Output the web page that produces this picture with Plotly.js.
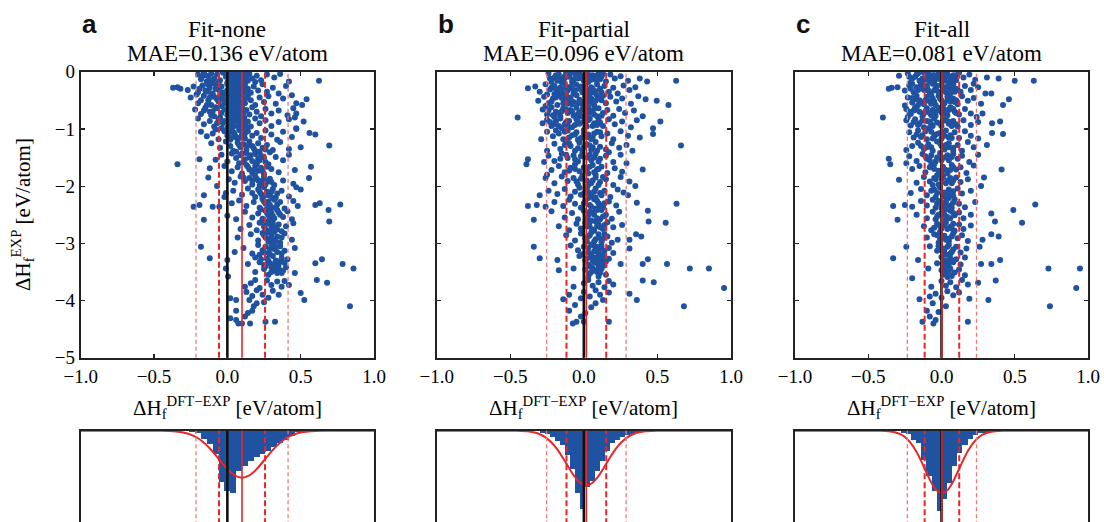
<!DOCTYPE html>
<html>
<head>
<meta charset="utf-8">
<script src="https://cdn.plot.ly/plotly-3.0.1.min.js"></script>
<style>html,body{margin:0;padding:0;background:#fff;overflow:hidden;}#chart{width:1104px;height:600px;}</style>
</head>
<body>
<div id="chart"></div>
<script>
// DATA
const panelLetters=['a','b','c'];
const panelNames=['Fit-none','Fit-partial','Fit-all'];
const maeValues=['0.136','0.096','0.081'];
const meanVals=[0.10,0.017,0.003];
const sigmaVals=[0.157,0.135,0.118];
const xTickVals=[-1,-0.5,0,0.5,1];
const yTickVals=[0,-1,-2,-3,-4,-5];
// scatter points as flat x,y pairs (dH DFT-EXP, dH EXP)
const scatterA=[-.2,-.05,-.16,-.02,-.13,-.08,-.11,-.03,-.09,-.12,-.07,-.05,-.05,-.15,-.03,-.02,-.01,-.09,.01,-.04,.02,-.14,.03,-.07,.04,-.02,.05,-.11,.06,-.05,.07,-.17,.08,-.09,.09,-.03,.1,-.13,.11,-.06,.12,-.18,.13,-.1,.15,-.04,.17,-.12,.2,-.07,.23,-.15,.27,-.05,.32,-.1,.42,-.17,.625,-.16,-.14,-.17,-.18,-.13,0,-.19,.06,-.19,-.06,-.19,.14,-.16,.19,-.18,.36,-.04,
.015,-.1,.035,-.16,.055,-.02,.075,-.12,.095,-.18,.045,-.08,.085,-.15,.025,-.05,
-.37,-.28,-.34,-.27,-.32,-.3,-.27,-.32,-.23,-.26,-.2,-.36,-.17,-.24,-.15,-.33,-.12,-.28,-.1,-.38,-.08,-.22,-.06,-.31,-.04,-.26,-.02,-.36,0,-.22,.01,-.3,.02,-.38,.03,-.25,.04,-.33,.05,-.21,.06,-.29,.07,-.37,.08,-.24,.09,-.32,.1,-.27,.11,-.36,.12,-.23,.14,-.3,.16,-.37,.18,-.26,.21,-.33,.24,-.22,.27,-.35,.31,-.28,.35,-.38,.4,-.25,
.015,-.34,.045,-.27,.075,-.35,.105,-.22,-.135,-.22,-.19,-.3,
-.25,-.45,-.2,-.55,-.16,-.42,-.13,-.5,-.11,-.58,-.09,-.44,-.06,-.52,-.03,-.47,-.01,-.56,.01,-.42,.02,-.5,.03,-.58,.04,-.45,.05,-.53,.06,-.41,.07,-.48,.08,-.57,.09,-.44,.1,-.52,.11,-.46,.12,-.55,.14,-.42,.16,-.5,.19,-.58,.22,-.45,.25,-.53,.28,-.43,.33,-.56,.38,-.47,.47,-.55,.54,-.48,.51,-.58,.44,-.41,
.015,-.46,.055,-.55,.085,-.5,-.05,-.42,-.14,-.58,
-.22,-.66,-.18,-.74,-.15,-.63,-.12,-.7,-.09,-.78,-.07,-.64,-.04,-.72,-.02,-.66,0,-.76,.02,-.62,.03,-.7,.04,-.78,.05,-.65,.06,-.73,.07,-.61,.08,-.69,.09,-.77,.1,-.64,.11,-.72,.13,-.67,.15,-.75,.17,-.62,.2,-.7,.23,-.78,.26,-.65,.3,-.73,.35,-.68,.41,-.76,.47,-.73,.45,-.64,
.015,-.68,.035,-.74,.065,-.79,.095,-.7,-.1,-.69,
-.2,-.82,-.16,-.92,-.12,-.86,-.09,-.96,-.06,-.84,-.03,-.9,0,-.98,.01,-.83,.02,-.91,.04,-.86,.05,-.95,.06,-.81,.08,-.89,.09,-.97,.1,-.84,.12,-.92,.14,-.87,.16,-.96,.19,-.82,.22,-.9,.26,-.85,.3,-.95,.35,-.88,.42,-.83,.47,-.99,.52,-.87,.46,-.8,
.03,-.97,.07,-.85,-.04,-.99,.11,-.99,
-.18,-1.05,-.14,-1.13,-.1,-1.08,-.06,-1.18,-.02,-1.04,0,-1.12,.02,-1.19,.04,-1.06,.06,-1.14,.08,-1.02,.1,-1.1,.12,-1.17,.14,-1.04,.17,-1.12,.2,-1.07,.23,-1.16,.26,-1.03,.3,-1.1,.34,-1.19,.38,-1.05,.47,-1,.56,-1.07,.6,-1.1,.44,-1.14,
.03,-1.01,.07,-1.19,-.08,-1.01,
-.11,-1.25,-.05,-1.33,-.01,-1.22,.02,-1.3,.04,-1.38,.07,-1.24,.09,-1.32,.11,-1.27,.13,-1.36,.15,-1.22,.17,-1.3,.19,-1.38,.21,-1.25,.24,-1.33,.27,-1.28,.31,-1.37,.36,-1.23,.42,-1.35,.5,-1.32,.695,-1.29,.06,-1.4,
-.19,-1.53,-.08,-1.54,-.04,-1.45,0,-1.57,.03,-1.43,.06,-1.51,.09,-1.46,.11,-1.58,.13,-1.42,.15,-1.5,.17,-1.56,.19,-1.44,.21,-1.52,.23,-1.47,.26,-1.58,.29,-1.41,.33,-1.49,.38,-1.55,.42,-1.45,.12,-1.53,.2,-1.59,
-.34,-1.62,-.12,-1.69,-.02,-1.65,.03,-1.74,.07,-1.67,.1,-1.78,.13,-1.63,.15,-1.71,.17,-1.77,.19,-1.65,.21,-1.73,.23,-1.68,.25,-1.79,.28,-1.62,.3,-1.7,.35,-1.76,.46,-1.72,.57,-1.66,.2,-1.61,
-.13,-1.85,-.07,-2,.01,-1.88,.05,-1.94,.09,-1.83,.12,-1.91,.15,-1.86,.17,-1.97,.19,-1.82,.21,-1.9,.23,-1.95,.25,-1.84,.27,-1.92,.29,-1.87,.32,-1.98,.38,-1.9,.45,-1.96,.557,-1.86,.22,-1.99,
-.16,-2.16,-.02,-2.19,-.01,-2.12,.04,-2.08,.1,-2.15,.14,-2.04,.17,-2.12,.19,-2.19,.21,-2.06,.23,-2.14,.25,-2.02,.27,-2.1,.29,-2.17,.31,-2.05,.34,-2.13,.37,-2.08,.42,-2.18,.47,-2.02,.5,-2.06,.24,-2.2,
-.23,-2.36,-.19,-2.33,-.1,-2.36,-.055,-2.36,.03,-2.3,.08,-2.25,.13,-2.35,.18,-2.28,.22,-2.38,.24,-2.23,.26,-2.31,.28,-2.27,.3,-2.37,.32,-2.24,.34,-2.32,.36,-2.28,.39,-2.39,.45,-2.26,.48,-2.35,.6,-2.33,.63,-2.3,.77,-2.32,.27,-2.4,.31,-2.21,
-.16,-2.59,0,-2.52,.06,-2.58,.12,-2.45,.17,-2.55,.21,-2.48,.24,-2.57,.26,-2.43,.28,-2.51,.3,-2.46,.32,-2.56,.34,-2.42,.36,-2.5,.38,-2.54,.41,-2.44,.44,-2.58,.69,-2.42,.29,-2.59,.23,-2.41,
.695,-2.62,.09,-2.75,.15,-2.68,.2,-2.77,.23,-2.63,.25,-2.71,.27,-2.66,.29,-2.78,.31,-2.64,.33,-2.72,.35,-2.67,.37,-2.79,.4,-2.7,.45,-2.65,.28,-2.61,.32,-2.8,
.07,-2.9,.16,-2.84,.21,-2.95,.24,-2.82,.26,-2.9,.28,-2.97,.3,-2.85,.32,-2.93,.34,-2.88,.36,-2.99,.39,-2.83,.44,-2.94,.27,-2.81,.31,-2.99,
-.18,-3.06,.05,-3.15,.11,-3.08,.17,-3.18,.21,-3.03,.24,-3.12,.26,-3.06,.28,-3.17,.3,-3.02,.32,-3.1,.34,-3.15,.36,-3.05,.39,-3.13,.46,-3.08,.22,-3.2,.29,-3.19,
-.12,-3.26,0,-3.29,.14,-3.36,.19,-3.25,.22,-3.33,.25,-3.38,.27,-3.27,.29,-3.35,.31,-3.22,.33,-3.3,.35,-3.37,.37,-3.26,.39,-3.34,.41,-3.28,.6,-3.35,.645,-3.28,.786,-3.36,.26,-3.4,.34,-3.4,
-.01,-3.44,.005,-3.58,.19,-3.5,.25,-3.45,.28,-3.55,.31,-3.42,.33,-3.48,.35,-3.44,.37,-3.52,.4,-3.42,.46,-3.52,.86,-3.44,.3,-3.5,
.61,-3.64,.68,-3.69,.12,-3.76,.16,-3.7,.22,-3.78,.27,-3.65,.3,-3.73,.34,-3.67,.37,-3.76,.39,-3.66,.42,-3.73,.19,-3.64,
.5,-3.87,.525,-3.99,.13,-3.85,.17,-3.92,.2,-3.82,.24,-3.9,.28,-3.95,.31,-3.83,.35,-3.9,.02,-3.96,.06,-3.99,.15,-3.99,
.836,-4.1,.25,-4.03,.18,-4.1,.14,-4.22,.17,-4.18,.06,-4.18,.02,-4.31,.06,-4.34,.075,-4.4,.1,-4.4,.155,-4.4,.26,-4.37,.325,-4.37,.12,-4.28,.2,-4.05];
const denseA=[.005,-.03,.03,-.01,.06,-.08,.09,-.07,.12,-.04,.02,-.22,.05,-.25,.08,-.2,.11,-.28,0,-.32,.035,-.4,.065,-.43,.095,-.39,.125,-.33,.005,-.48,.04,-.6,.07,-.55,.1,-.6,.125,-.47,.01,-.58,.025,-.77,.055,-.7,.085,-.76,.115,-.8,.005,-.72,.02,-.88,.05,-.84,.08,-.94,.11,-.88,.13,-.97,.01,-1.06,.05,-1.1,.09,-1.15,.12,-1.08,.03,-1.15,
-.15,-.06,-.12,-.14,-.1,-.2,-.08,-.3,-.05,-.35,-.03,-.42,-.07,-.48,-.12,-.45,-.02,-.52,-.04,-.6,-.08,-.62,-.11,-.76,-.05,-.8,-.02,-.86,-.07,-.9,-.16,-.68,-.18,-.5,-.21,-.4,-.17,-.08,-.13,-.35,
.08,-1.28,.14,-1.29,.18,-1.34,.22,-1.4,.26,-1.36,.1,-1.43,.16,-1.46,.22,-1.55,.25,-1.5,.08,-1.6,.14,-1.66,.18,-1.72,.24,-1.74,.27,-1.66,.11,-1.85,.17,-1.9,.2,-1.87,.24,-1.9,.26,-1.97,.3,-1.93,
.22,-2.1,.26,-2.16,.3,-2.1,.33,-2.2,.25,-2.27,.29,-2.33,.33,-2.38,.27,-2.47,.31,-2.52,.35,-2.46,.22,-2.64,.26,-2.76,.3,-2.7,.34,-2.76,.25,-2.86,.29,-2.92,.33,-2.96,.37,-2.9,.25,-3.16,.29,-3.1,.33,-3.06,.37,-3.18,.23,-3.28,.28,-3.31,.32,-3.36,.36,-3.32,.3,-3.42,.34,-3.52,.38,-3.48];
const scatterB=[-.24,-.03,-.2,-.1,-.17,-.05,-.14,-.15,-.12,-.02,-.1,-.09,-.08,-.17,-.06,-.04,-.04,-.12,-.02,-.07,0,-.16,.02,-.03,.04,-.1,.06,-.06,.08,-.14,.1,-.02,.12,-.09,.15,-.17,.18,-.05,.21,-.12,.25,-.08,.3,-.16,.38,-.12,.43,-.17,.627,-.16,-.22,-.18,-.15,-.19,-.07,-.19,.03,-.18,.13,-.04,-.09,-.02,.01,-.08,-.13,-.08,.07,-.11,-.03,-.03,
-.38,-.29,-.33,-.26,-.3,-.35,-.26,-.22,-.23,-.31,-.2,-.25,-.18,-.37,-.16,-.28,-.13,-.21,-.11,-.33,-.09,-.26,-.07,-.38,-.05,-.23,-.03,-.3,-.01,-.36,.01,-.24,.03,-.32,.05,-.27,.07,-.37,.09,-.22,.11,-.3,.14,-.25,.17,-.35,.2,-.28,.23,-.38,.27,-.24,.31,-.32,.35,-.27,-.14,-.39,0,-.29,-.2,-.39,
-.31,-.51,-.27,-.44,-.24,-.55,-.21,-.47,-.18,-.58,-.16,-.42,-.13,-.5,-.11,-.56,-.09,-.45,-.07,-.53,-.05,-.41,-.03,-.49,-.01,-.57,.01,-.44,.03,-.52,.05,-.47,.07,-.58,.09,-.42,.12,-.5,.15,-.55,.18,-.44,.22,-.52,.26,-.47,.32,-.56,.37,-.43,.495,-.51,.575,-.58,.42,-.48,-.12,-.41,.02,-.59,
-.45,-.8,-.28,-.66,-.25,-.75,-.22,-.62,-.19,-.7,-.16,-.78,-.14,-.64,-.11,-.72,-.09,-.67,-.07,-.77,-.05,-.63,-.03,-.71,-.01,-.66,.01,-.76,.03,-.62,.05,-.69,.07,-.75,.1,-.64,.13,-.72,.16,-.67,.2,-.77,.24,-.65,.28,-.72,.34,-.68,.4,-.78,-.2,-.79,0,-.79,
-.28,-.9,-.25,-.84,-.22,-.95,-.19,-.87,-.16,-.82,-.13,-.92,-.1,-.86,-.08,-.97,-.05,-.83,-.03,-.91,0,-.87,.02,-.96,.04,-.82,.07,-.9,.1,-.85,.13,-.95,.17,-.83,.21,-.92,.26,-.87,.32,-.97,.36,-.85,.52,-.87,.47,-.99,-.15,-.99,
-.29,-1.18,-.25,-1.05,-.21,-1.13,-.17,-1.08,-.14,-1.18,-.11,-1.03,-.08,-1.11,-.05,-1.06,-.02,-1.16,0,-1.02,.03,-1.1,.06,-1.15,.09,-1.05,.12,-1.13,.16,-1.08,.2,-1.18,.25,-1.04,.3,-1.12,.47,-1.09,.38,-1.15,-.04,-1.19,
-.2,-1.26,-.16,-1.35,-.12,-1.22,-.09,-1.3,-.06,-1.38,-.03,-1.24,0,-1.32,.02,-1.27,.05,-1.37,.08,-1.23,.11,-1.31,.15,-1.36,.19,-1.25,.24,-1.33,.29,-1.28,.66,-1.29,-.25,-1.38,.33,-1.38,
-.38,-1.53,-.24,-1.47,-.2,-1.56,-.15,-1.43,-.11,-1.51,-.07,-1.46,-.04,-1.57,-.01,-1.42,.02,-1.5,.05,-1.55,.08,-1.44,.11,-1.52,.15,-1.47,.2,-1.58,.25,-1.45,.29,-1.6,-.27,-1.58,.17,-1.41,
-.39,-1.62,-.22,-1.72,-.17,-1.65,-.13,-1.76,-.09,-1.68,-.06,-1.62,-.03,-1.74,0,-1.67,.03,-1.78,.06,-1.63,.09,-1.71,.12,-1.66,.16,-1.77,.21,-1.69,.26,-1.75,.4,-1.71,-.25,-1.8,.08,-1.8,
-.26,-1.86,-.2,-1.95,-.15,-1.83,-.11,-1.91,-.07,-1.86,-.04,-1.97,-.01,-1.82,.02,-1.9,.05,-1.95,.08,-1.85,.11,-1.93,.15,-1.88,.2,-1.98,.25,-1.84,.31,-1.92,.35,-2,
-.3,-2.16,-.24,-2.08,-.18,-2.14,-.13,-2.05,-.09,-2.18,-.06,-2.1,-.03,-2.03,0,-2.13,.02,-2.07,.05,-2.17,.08,-2.04,.11,-2.12,.14,-2.08,.18,-2.19,.23,-2.06,.3,-2.16,.27,-2.11,
-.38,-2.35,-.32,-2.33,-.26,-2.36,-.2,-2.28,-.14,-2.35,-.1,-2.24,-.06,-2.31,-.02,-2.38,.01,-2.26,.04,-2.33,.07,-2.23,.1,-2.3,.13,-2.37,.17,-2.27,.22,-2.34,.36,-2.29,.63,-2.31,.08,-2.39,
-.34,-2.59,-.22,-2.44,-.13,-2.55,-.08,-2.47,-.04,-2.58,0,-2.43,.03,-2.51,.06,-2.46,.09,-2.56,.12,-2.42,.15,-2.5,.19,-2.57,.24,-2.45,.435,-2.43,.05,-2.6,
.44,-2.62,.556,-2.64,-.17,-2.7,-.1,-2.77,-.05,-2.66,-.02,-2.74,.01,-2.64,.04,-2.71,.07,-2.78,.1,-2.67,.13,-2.75,.16,-2.63,.2,-2.72,.26,-2.68,.08,-2.62,
.355,-2.84,.39,-2.88,.31,-2.94,.23,-2.94,-.12,-2.86,-.06,-2.95,-.02,-2.83,.01,-2.91,.04,-2.86,.07,-2.97,.1,-2.84,.13,-2.92,.16,-2.88,.19,-2.99,.05,-2.81,
-.34,-3.06,.31,-3.09,-.09,-3.04,-.04,-3.12,0,-3.06,.03,-3.16,.06,-3.03,.08,-3.1,.1,-3.18,.12,-3.05,.14,-3.13,.17,-3.08,.2,-3.17,.05,-3.2,-.01,-3.19,
-.3,-3.26,-.18,-3.29,.435,-3.28,.4,-3.36,.25,-3.36,.565,-3.36,-.03,-3.22,.01,-3.3,.03,-3.37,.05,-3.25,.07,-3.33,.09,-3.28,.11,-3.38,.13,-3.24,.15,-3.32,.17,-3.27,.04,-3.4,.1,-3.22,
-.17,-3.47,-.07,-3.44,.72,-3.44,.85,-3.44,.01,-3.46,.04,-3.53,.06,-3.43,.09,-3.5,.12,-3.45,.15,-3.55,.03,-3.59,.1,-3.58,
.953,-3.78,.4,-3.65,.475,-3.68,-.07,-3.76,0,-3.7,.03,-3.64,.06,-3.74,.1,-3.68,.14,-3.77,.17,-3.66,.2,-3.72,
.36,-3.99,.31,-3.88,-.14,-3.98,-.1,-3.9,.13,-3.99,0,-3.85,.04,-3.93,.08,-3.82,.11,-3.9,-.02,-3.96,.17,-3.86,
.68,-4.1,-.1,-4.18,-.075,-4.4,-.05,-4.37,0,-4.37,.01,-4.22,.17,-4.37,-.02,-4.28,.05,-4.12,.08,-4.05,-.06,-4.08];
const denseB=[-.19,-.06,-.16,-.12,-.11,-.06,-.05,-.09,.05,-.14,.09,-.07,-.19,-.3,-.12,-.27,-.06,-.33,.02,-.35,.06,-.3,.12,-.36,-.22,-.52,-.15,-.46,-.08,-.57,0,-.52,.06,-.55,.1,-.47,-.24,-.68,-.17,-.72,-.12,-.66,-.04,-.74,.04,-.72,.09,-.78,-.2,-.92,-.12,-.88,-.06,-.93,.01,-.9,.06,-.95,.11,-.89,-.19,-1.03,-.1,-1.15,.02,-1.14,.07,-1.08,-.13,-1.28,-.04,-1.34,.04,-1.29,.09,-1.38,-.16,-1.52,-.06,-1.53,.04,-1.45,.1,-1.57,-.1,-1.73,.02,-1.72,.07,-1.76,-.05,-1.92,.06,-1.9,.1,-1.98,-.02,-2.15,.04,-2.12,.08,-2.2,0,-2.3,.05,-2.36,.11,-2.34,.02,-2.55,.07,-2.5,.11,-2.58,.02,-2.7,.06,-2.76,.11,-2.72,.02,-2.97,.08,-2.93,.12,-2.98,.03,-3.08,.07,-3.14,.11,-3.1,.06,-3.3,.09,-3.35,.12,-3.3,.07,-3.47,.1,-3.43,
-.23,-.12,-.18,-.16,-.13,-.11,-.07,-.13,-.01,-.12,.04,-.06,.11,-.13,-.25,-.4,-.22,-.28,-.15,-.32,-.08,-.3,-.02,-.26,.04,-.38,.08,-.34,-.26,-.6,-.19,-.45,-.14,-.55,-.1,-.5,-.04,-.55,.03,-.47,.08,-.51,.13,-.42,-.21,-.76,-.15,-.69,-.08,-.7,-.02,-.78,.02,-.68,.07,-.65,.12,-.77,-.23,-.88,-.17,-.95,-.11,-.95,-.04,-.87,.03,-.85,.09,-.93,-.13,-1.05,-.06,-1.1,0,-1.08,.05,-1.18,.11,-1.06,-.1,-1.25,-.01,-1.36,.06,-1.32,-.12,-1.45,-.02,-1.48,.07,-1.5,-.06,-1.7,.04,-1.66,.1,-1.7,-.02,-1.87,.03,-1.98,.13,-1.84,.02,-2.02,.07,-2.1,.12,-2.16,.03,-2.21,.09,-2.26,.14,-2.3,.04,-2.45,.09,-2.42,.13,-2.53,.04,-2.63,.09,-2.7,.14,-2.68,.03,-2.88,.1,-2.9,.14,-2.84,.05,-3.02,.09,-3.06,.13,-3.2,.02,-3.26,.08,-3.25,.14,-3.39,.05,-3.5,.11,-3.52];
const scatterC=[-.29,-.07,-.23,-.03,-.2,-.12,-.17,-.05,-.15,-.16,-.12,-.02,-.1,-.1,-.08,-.17,-.06,-.06,-.04,-.13,-.02,-.03,0,-.09,.02,-.16,.04,-.04,.06,-.11,.08,-.06,.1,-.15,.12,-.02,.15,-.1,.19,-.05,.23,-.14,.31,-.1,.39,-.12,.5,-.16,.63,-.16,-.21,-.19,-.13,-.19,-.05,-.19,.05,-.19,-.09,-.03,.01,-.02,-.03,-.1,.07,-.14,
-.36,-.3,-.34,-.28,-.3,-.27,-.25,-.33,-.22,-.24,-.19,-.36,-.17,-.27,-.14,-.22,-.12,-.32,-.1,-.25,-.08,-.37,-.06,-.21,-.04,-.29,-.02,-.35,0,-.23,.02,-.31,.04,-.26,.06,-.38,.08,-.22,.1,-.3,.13,-.35,.16,-.25,.2,-.32,.25,-.27,.3,-.38,.34,-.38,.22,-.21,-.2,-.21,-.01,-.39,
-.23,-.45,-.2,-.54,-.17,-.42,-.15,-.5,-.12,-.57,-.1,-.44,-.08,-.52,-.06,-.47,-.04,-.58,-.02,-.42,0,-.5,.02,-.55,.04,-.44,.06,-.52,.08,-.47,.11,-.57,.14,-.43,.18,-.51,.22,-.46,.27,-.56,.46,-.48,.42,-.58,-.25,-.59,-.07,-.41,
-.4,-.8,-.24,-.65,-.21,-.74,-.18,-.62,-.15,-.7,-.13,-.78,-.1,-.64,-.08,-.72,-.06,-.67,-.04,-.77,-.02,-.63,0,-.71,.02,-.66,.04,-.76,.06,-.62,.09,-.7,.12,-.75,.16,-.65,.2,-.73,.28,-.73,.24,-.79,-.23,-.79,
-.24,-.85,-.21,-.94,-.18,-.83,-.15,-.9,-.12,-.97,-.1,-.86,-.07,-.92,-.05,-.82,-.03,-.89,0,-.95,.02,-.84,.05,-.91,.08,-.86,.11,-.96,.15,-.85,.2,-.93,.25,-.88,.4,-.87,.345,-.9,-.09,-.99,
-.22,-1.06,-.19,-1.15,-.16,-1.03,-.13,-1.11,-.1,-1.18,-.07,-1.05,-.05,-1.13,-.02,-1.08,0,-1.17,.03,-1.03,.06,-1.11,.09,-1.06,.12,-1.16,.16,-1.04,.2,-1.12,.42,-1.09,.345,-1.07,.25,-1.17,
.31,-1.28,-.2,-1.3,-.16,-1.24,-.12,-1.35,-.09,-1.27,-.06,-1.38,-.03,-1.22,0,-1.3,.02,-1.36,.05,-1.25,.08,-1.33,.11,-1.28,.14,-1.38,.18,-1.23,.22,-1.32,-.24,-1.37,
-.36,-1.52,-.22,-1.48,-.17,-1.56,-.13,-1.44,-.1,-1.52,-.07,-1.46,-.04,-1.57,-.01,-1.42,.02,-1.5,.05,-1.55,.08,-1.44,.11,-1.52,.14,-1.47,.19,-1.58,.25,-1.45,-.24,-1.6,
-.35,-1.62,-.2,-1.7,-.15,-1.65,-.11,-1.76,-.08,-1.67,-.05,-1.62,-.02,-1.73,.01,-1.66,.04,-1.78,.07,-1.63,.1,-1.71,.13,-1.67,.17,-1.77,.41,-1.71,.22,-1.64,
-.29,-1.89,.29,-1.85,.27,-2,-.17,-1.94,-.12,-1.84,-.08,-1.92,-.05,-1.86,-.02,-1.97,.01,-1.83,.04,-1.9,.07,-1.95,.1,-1.85,.13,-1.93,.18,-1.88,-.03,-1.81,
-.21,-2.12,-.14,-2.05,-.1,-2.16,-.07,-2.08,-.04,-2.19,-.01,-2.03,.02,-2.11,.05,-2.06,.08,-2.17,.11,-2.04,.14,-2.13,.2,-2.08,.03,-2.2,
-.33,-2.35,-.25,-2.33,-.2,-2.36,-.14,-2.26,-.1,-2.34,-.06,-2.24,-.03,-2.31,0,-2.38,.03,-2.27,.06,-2.34,.09,-2.23,.12,-2.31,.16,-2.37,.64,-2.32,.49,-2.42,.23,-2.28,.05,-2.21,
-.3,-2.59,.34,-2.48,-.17,-2.5,-.1,-2.56,-.06,-2.45,-.03,-2.53,0,-2.47,.03,-2.58,.06,-2.43,.09,-2.51,.12,-2.46,.15,-2.56,.2,-2.5,.03,-2.41,
.55,-2.64,.365,-2.62,-.12,-2.7,-.07,-2.77,-.03,-2.66,0,-2.74,.03,-2.63,.06,-2.71,.09,-2.78,.12,-2.67,.15,-2.75,.2,-2.69,-.01,-2.8,
.34,-2.84,.39,-2.88,.28,-2.94,-.1,-2.9,-.05,-2.84,-.01,-2.93,.02,-2.87,.05,-2.97,.08,-2.83,.11,-2.91,.14,-2.86,.18,-2.96,-.02,-2.99,
-.24,-3.06,.26,-3.06,-.08,-3.05,-.03,-3.13,0,-3.08,.02,-3.17,.05,-3.03,.08,-3.11,.1,-3.06,.13,-3.16,.17,-3.09,.03,-3.2,
-.33,-3.26,-.16,-3.29,.27,-3.36,.34,-3.36,.4,-3.29,0,-3.24,.02,-3.31,.04,-3.37,.06,-3.26,.08,-3.33,.1,-3.28,.13,-3.37,.16,-3.25,-.03,-3.35,.05,-3.4,
-.09,-3.44,.73,-3.44,.945,-3.44,0,-3.47,.03,-3.53,.06,-3.44,.09,-3.51,.12,-3.46,.16,-3.56,.04,-3.59,
-.2,-3.61,.37,-3.65,.92,-3.78,.25,-3.69,-.07,-3.76,0,-3.66,.03,-3.74,.06,-3.68,.1,-3.77,.14,-3.64,.18,-3.72,
.32,-3.99,-.15,-3.98,-.04,-3.88,0,-3.95,.04,-3.84,.08,-3.91,.12,-3.86,-.08,-3.93,.19,-3.97,
.74,-4.1,.18,-4.37,-.13,-4.37,-.1,-4.18,-.055,-4.4,-.04,-4.34,-.06,-4.05,-.02,-4.2,.03,-4.1,-.08,-4.28];
const denseC=[-.18,-.09,-.13,-.12,-.07,-.1,-.01,-.13,.03,-.08,.09,-.1,-.16,-.32,-.1,-.28,-.05,-.33,.01,-.27,.05,-.33,.09,-.35,-.18,-.48,-.13,-.54,-.07,-.56,-.01,-.47,.04,-.5,.09,-.53,-.19,-.68,-.12,-.73,-.05,-.69,.01,-.74,.05,-.67,.1,-.72,-.16,-.93,-.08,-.87,-.01,-.91,.04,-.86,.07,-.95,-.14,-1.14,-.04,-1.1,.02,-1.12,.07,-1.16,-.1,-1.32,-.01,-1.25,.05,-1.32,-.08,-1.55,0,-1.55,.07,-1.49,-.05,-1.7,.03,-1.72,.08,-1.67,-.04,-1.88,.03,-1.95,.06,-1.86,-.03,-2.12,.04,-2.15,.08,-2.09,-.02,-2.26,.03,-2.35,.08,-2.29,-.02,-2.5,.04,-2.54,.08,-2.47,-.01,-2.7,.04,-2.75,.08,-2.66,0,-2.88,.05,-2.92,0,-3.12,.04,-3.06,.07,-3.15,.03,-3.3,.07,-3.3,.02,-3.45,.05,-3.5,
-.22,-.09,-.16,-.03,-.11,-.14,-.05,-.06,0,-.15,.05,-.09,.1,-.06,-.21,-.3,-.14,-.26,-.09,-.33,-.03,-.25,.03,-.36,.07,-.27,.11,-.32,-.2,-.46,-.16,-.58,-.11,-.5,-.05,-.52,.01,-.58,.06,-.46,.1,-.5,-.22,-.7,-.17,-.66,-.11,-.69,-.07,-.76,-.02,-.68,.03,-.72,.08,-.65,-.19,-.88,-.13,-.85,-.06,-.95,.01,-.86,.06,-.88,.1,-.92,-.17,-1.1,-.11,-1.04,-.06,-1.17,0,-1.06,.05,-1.15,-.14,-1.3,-.07,-1.32,.03,-1.28,.08,-1.38,-.11,-1.48,-.03,-1.5,.04,-1.46,-.07,-1.63,0,-1.76,.06,-1.72,-.06,-1.98,0,-1.88,.08,-1.9,-.05,-2.06,.01,-2.17,.06,-2.12,-.04,-2.38,.01,-2.3,.07,-2.38,-.04,-2.58,.02,-2.5,.06,-2.56,-.05,-2.73,.02,-2.68,.07,-2.74,-.03,-2.86,.03,-2.94,.07,-2.88,-.02,-3.05,.02,-3.1,.06,-3.18,.01,-3.36,.05,-3.32,.01,-3.55,.07,-3.57];
// histograms: bin centres and probability density
const binWidths=[0.04,0.034,0.035];
const histXA=[-.24,-.2,-.16,-.12,-.08,-.04,0,.04,.08,.12,.16,.2,.24,.28,.32,.36,.4,.44,.48,.52,.56];
const histDA=[.05,.15,.47,.74,1.28,2.76,3.24,3.35,2.16,1.89,1.62,1.41,1.24,1.08,.86,.65,.49,.27,.08,.05,.03];
const histXB=[-.315,-.281,-.247,-.213,-.179,-.145,-.111,-.077,-.043,-.009,.025,.059,.093,.127,.161,.195,.229,.263,.297,.331,.365,.399,.433];
const histDB=[.03,.14,.19,.32,.54,.76,1.3,2.05,3.35,4.22,3.03,2.7,2.16,1.62,1.08,.65,.49,.32,.22,.16,.08,.08,.04];
const histXC=[-.295,-.26,-.225,-.19,-.155,-.12,-.085,-.05,-.015,.02,.055,.09,.125,.16,.195,.23,.265,.3,.335,.37];
const histDC=[.03,.15,.16,.49,.65,1.57,2.43,3.24,4.32,3.68,2.81,1.89,1.19,.76,.43,.22,.14,.11,.08,.05];
// fitted normal curves
const gaussXA=[-1,-.5,-.45,-.4,-.35,-.3,-.25,-.2,-.15,-.1,-.05,0,.05,.1,.15,.2,.25,.3,.35,.4,.45,.5,.55,.6,.65,.7,1];
const gaussYA=[0,.002,.005,.016,.042,.099,.212,.409,.715,1.129,1.61,2.074,2.415,2.54,2.415,2.074,1.61,1.129,.715,.409,.212,.099,.042,.016,.005,.002,0];
const gaussXB=[-1,-.463,-.423,-.383,-.343,-.303,-.263,-.223,-.183,-.143,-.103,-.063,-.023,.017,.057,.097,.137,.177,.217,.257,.297,.337,.377,.417,.457,.497,1];
const gaussYB=[0,.005,.015,.037,.084,.178,.344,.608,.986,1.464,1.991,2.479,2.828,2.955,2.828,2.479,1.991,1.464,.986,.608,.344,.178,.084,.037,.015,.005,0];
const gaussXC=[-1,-.417,-.382,-.347,-.312,-.277,-.242,-.207,-.172,-.137,-.102,-.067,-.032,.003,.038,.073,.108,.143,.178,.213,.248,.283,.318,.353,.388,.423,1];
const gaussYC=[0,.006,.017,.042,.096,.202,.392,.694,1.126,1.672,2.275,2.835,3.235,3.38,3.235,2.835,2.275,1.672,1.126,.694,.392,.202,.096,.042,.017,.006,0];

// STYLE / LAYOUT
const W=1104,H=600,BLUE='#1f52a0',RED='#e8262a',RED_LIGHT='#f07878',FRAME='#222222';
const SERIF='Liberation Serif',SANS='Liberation Sans';
const px=v=>v/W, py=v=>1-v/H;
const panelLeft=[80.7,436.7,795], panelRight=[374,731,1088];
const scatTop=71.7,scatBot=357.7,histTop=430.7,histBot=560.2,histMax=7.0;
const evens=a=>a.filter((_,k)=>k%2===0), odds=a=>a.filter((_,k)=>k%2===1);
const scatters=[scatterA.concat(denseA),scatterB.concat(denseB),scatterC.concat(denseC)];
const hists=[[histXA,histDA],[histXB,histDB],[histXC,histDC]];
const gauss=[[gaussXA,gaussYA],[gaussXB,gaussYB],[gaussXC,gaussYC]];
const traces=[];
const layout={width:W,height:H,margin:{l:0,r:0,t:0,b:0},paper_bgcolor:'#fff',plot_bgcolor:'#fff',
  showlegend:false,bargap:0,shapes:[],annotations:[]};
for(let i=0;i<3;i++){
  const sx='x'+(i+1),sy='y'+(i+1),hx='x'+(i+4),hy='y'+(i+4);
  const sxKey=i===0?'xaxis':'xaxis'+(i+1), syKey=i===0?'yaxis':'yaxis'+(i+1);
  const dom=[px(panelLeft[i]),px(panelRight[i])];
  traces.push({type:'scatter',mode:'markers',x:evens(scatters[i]),y:odds(scatters[i]),
    marker:{size:6,color:BLUE,line:{width:0}},xaxis:sx,yaxis:sy,hoverinfo:'skip'});
  traces.push({type:'bar',x:hists[i][0],y:hists[i][1],width:binWidths[i],
    marker:{color:BLUE,line:{width:0}},xaxis:hx,yaxis:hy,hoverinfo:'skip'});
  traces.push({type:'scatter',mode:'lines',x:gauss[i][0],y:gauss[i][1],
    line:{color:RED,width:2,shape:'spline',smoothing:1},xaxis:hx,yaxis:hy,hoverinfo:'skip'});
  const common={showline:true,linewidth:2,linecolor:FRAME,showgrid:false,zeroline:false};
  layout[sxKey]=Object.assign({domain:dom,anchor:sy,range:[-1,1],tickvals:xTickVals,tickformat:'.1f',
    ticks:'inside',ticklen:4,tickwidth:1.2,tickcolor:FRAME,mirror:'allticks',
    tickfont:{family:SERIF,size:19,color:'#000'}},common);
  layout[syKey]=Object.assign({domain:[py(scatBot),py(scatTop)],anchor:sx,range:[-5,0],tickvals:yTickVals,
    showticklabels:i===0,ticks:'inside',ticklen:4,tickwidth:1.2,tickcolor:FRAME,mirror:'allticks',
    tickfont:{family:SERIF,size:19,color:'#000'}},common);
  layout['xaxis'+(i+4)]=Object.assign({domain:dom,anchor:hy,range:[-1,1],showticklabels:false,ticks:'',mirror:true},common);
  layout['yaxis'+(i+4)]=Object.assign({domain:[py(histBot),py(histTop)],anchor:hx,range:[histMax,0],
    showticklabels:false,ticks:'',mirror:true},common);
  const m=meanVals[i],s=sigmaVals[i];
  const lineSpecs=[
    {x:m-2*s,color:RED_LIGHT,width:1.3,dash:'4px,3px'},{x:m+2*s,color:RED_LIGHT,width:1.3,dash:'4px,3px'},
    {x:m-s,color:RED,width:2,dash:'6px,3px'},{x:m+s,color:RED,width:2,dash:'6px,3px'},
    {x:0,color:'#111',width:2.6,dash:'solid'},{x:m,color:RED,width:1.6,dash:'solid'}];
  [[sx,sy],[hx,hy]].forEach(([ax,ay])=>lineSpecs.forEach(L=>layout.shapes.push({type:'line',xref:ax,yref:ay+' domain',
    x0:L.x,x1:L.x,y0:0,y1:1,layer:'above',line:{color:L.color,width:L.width,dash:L.dash}})));
  const cx=(panelLeft[i]+panelRight[i])/2;
  const ann=(x,y,text,font,extra)=>layout.annotations.push(Object.assign({xref:'paper',yref:'paper',x:px(x),y:py(y),
    xanchor:'center',yanchor:'middle',text:text,showarrow:false,font:font},extra||{}));
  ann(cx,29,panelNames[i],{family:SERIF,size:23,color:'#000'});
  ann(cx,53,'MAE='+maeValues[i]+' eV/atom',{family:SERIF,size:23,color:'#000'});
  ann(panelLeft[i]-1,24,'<b>'+panelLetters[i]+'</b>',{family:SANS,size:26,color:'#111'},{xanchor:'left'});
  ann(cx,407,'ΔH<sub>f</sub><sup>DFT−EXP</sup> [eV/atom]',{family:SERIF,size:21,color:'#000'});
}
layout.annotations.push({xref:'paper',yref:'paper',x:px(22),y:py(215),xanchor:'center',yanchor:'middle',textangle:-90,
  text:'ΔH<sub>f</sub><sup>EXP</sup> [eV/atom]',showarrow:false,font:{family:SERIF,size:21,color:'#000'}});
Plotly.newPlot('chart',traces,layout,{displayModeBar:false,staticPlot:true}).then(gd=>{
  // make sure the serif face is applied to every label except the bold panel letters
  gd.querySelectorAll('text').forEach(t=>{
    const isLetter=panelLetters.includes((t.textContent||'').trim());
    t.style.fontFamily=isLetter?'"Liberation Sans"':'"Liberation Serif"';
  });
});
</script>
</body>
</html>
